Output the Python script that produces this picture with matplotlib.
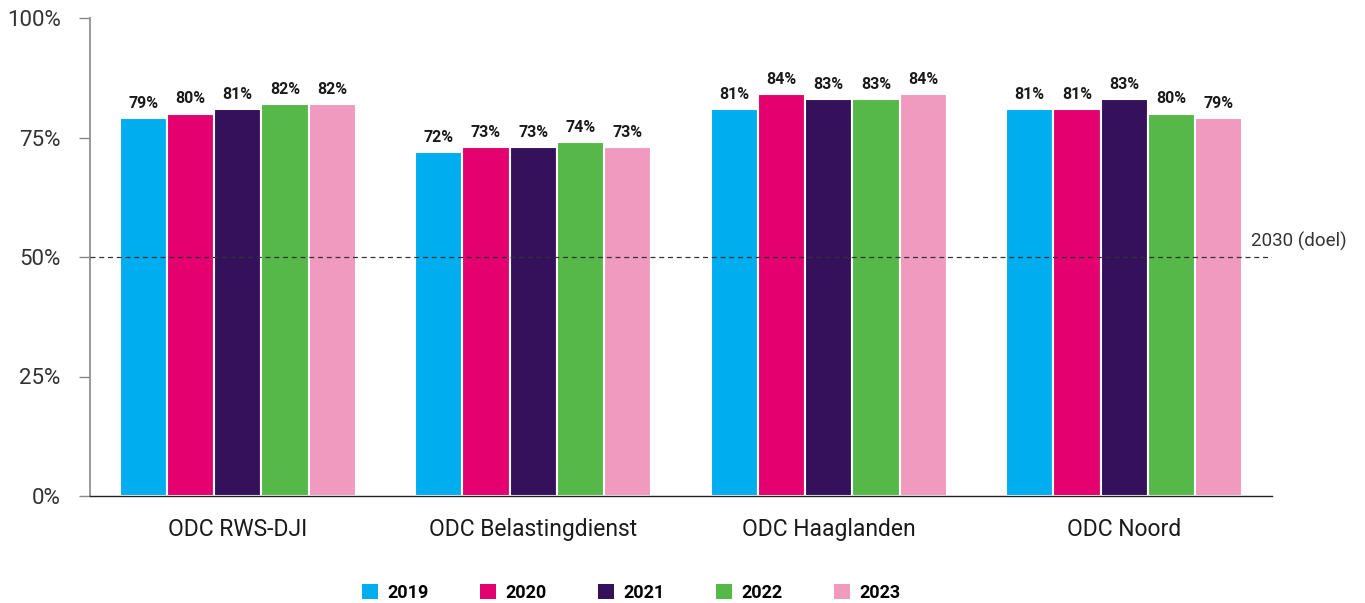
import matplotlib
matplotlib.use("Agg")
import matplotlib.pyplot as plt
import numpy as np
from matplotlib.patches import Patch

plt.rcParams['font.family'] = ['Roboto', 'DejaVu Sans']

categories = ["ODC RWS-DJI", "ODC Belastingdienst", "ODC Haaglanden", "ODC Noord"]
years = ["2019", "2020", "2021", "2022", "2023"]
values = {
    "2019": [79, 72, 81, 81],
    "2020": [80, 73, 84, 81],
    "2021": [81, 73, 83, 83],
    "2022": [82, 74, 83, 80],
    "2023": [82, 73, 84, 79],
}
colors = ["#00AEEF", "#E5006F", "#35115C", "#55B848", "#F09AC0"]
target = 50
target_label = "2030 (doel)"
yticks = [0, 25, 50, 75, 100]

fig = plt.figure(figsize=(13.65, 6.03), dpi=100)
ax = fig.add_axes([90/1365, 107/603, (1272-90)/1365, (496-18)/603])

x = np.arange(len(categories))
w = 0.16
for i, y in enumerate(years):
    xs = x + (i - 2) * w
    ax.bar(xs, values[y], width=w, color=colors[i], edgecolor="white", linewidth=1.5, zorder=2)
    for xi, v in zip(xs, values[y]):
        ax.text(xi, v + 1.5, f"{v}%", ha="center", va="bottom", fontsize=11.5, fontweight="bold", color="#1a1a1a", zorder=4)

ax.axhline(target, color="#333333", linestyle=(0, (4, 3)), linewidth=0.9, zorder=3)
ax.text(3.5 - 0.07, target + 1.3, target_label, ha="left", va="bottom", fontsize=13.5, color="#333333", clip_on=False)

ax.set_xlim(-0.5, 3.5)
ax.set_ylim(0, 100)
ax.set_yticks(yticks)
ax.set_yticklabels([f"{t}%" for t in yticks], fontsize=16, color="#333333")
ax.set_xticks(x)
ax.set_xticklabels(categories, fontsize=16.5, color="#1a1a1a")
ax.tick_params(axis="x", length=0, pad=16)
ax.tick_params(axis="y", length=8, direction="out", color="#888888", pad=13, width=1)

ax.spines["top"].set_visible(False)
ax.spines["right"].set_visible(False)
ax.spines["left"].set_color("#888888")
ax.spines["left"].set_linewidth(1.2)
ax.spines["bottom"].set_color("#222222")
ax.spines["bottom"].set_linewidth(1)

handles = [Patch(facecolor=c, edgecolor="none") for c in colors]
fig.legend(handles, years, loc="center", bbox_to_anchor=(631/1365, 1 - 593/603), ncol=5,
           frameon=False, handlelength=0.9, handleheight=0.9, handletextpad=0.5, columnspacing=2.85,
           prop={"size": 13, "weight": "bold"})

fig.savefig("out.png", dpi=100)
